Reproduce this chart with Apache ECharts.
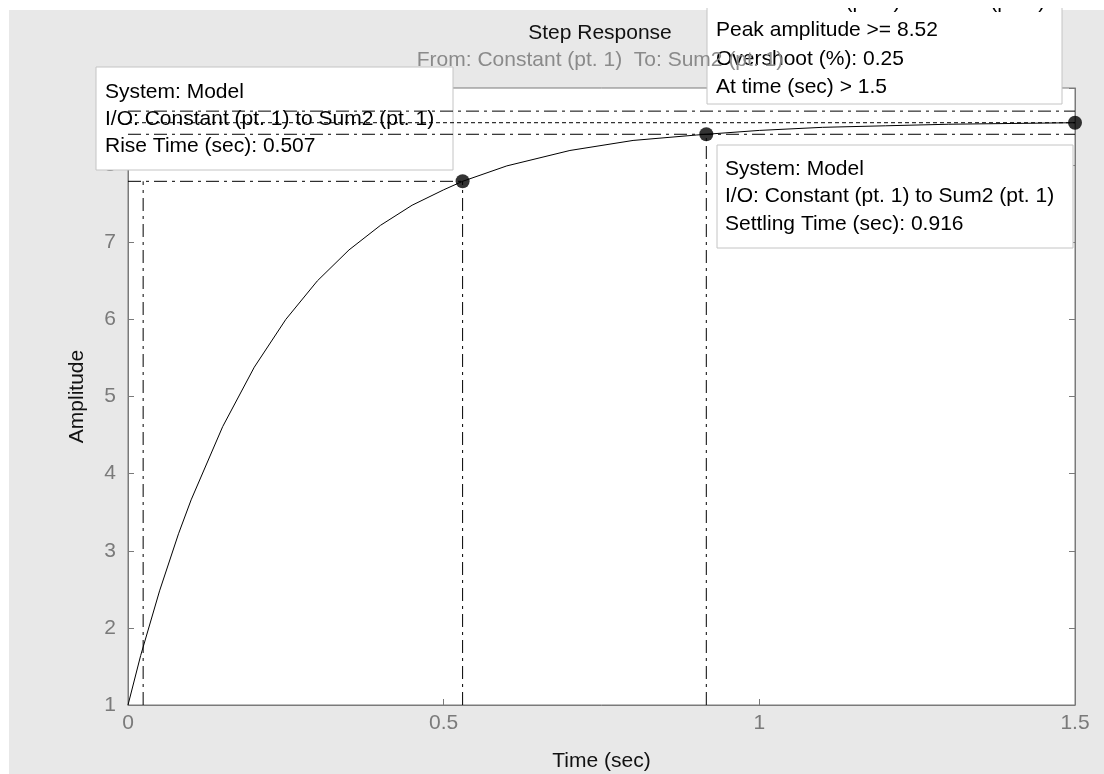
<!DOCTYPE html>
<html><head><meta charset="utf-8">
<script src="https://cdn.jsdelivr.net/npm/echarts@6/dist/echarts.min.js"></script>
<style>html,body{margin:0;padding:0;background:#fff}#c{width:1104px;height:774px}</style>
</head><body><div id="c"></div>
<script>
// Step response samples
const timeSec   = [0, 0.02, 0.05, 0.08, 0.1, 0.15, 0.2, 0.25, 0.3, 0.35, 0.4, 0.45, 0.5, 0.53, 0.6, 0.7, 0.8, 0.9, 0.916, 1.0, 1.1, 1.2, 1.3, 1.4, 1.5];
const amplitude = [1, 1.64, 2.48, 3.22, 3.66, 4.61, 5.38, 6.00, 6.50, 6.90, 7.22, 7.48, 7.68, 7.79, 7.99, 8.19, 8.32, 8.39, 8.40, 8.45, 8.49, 8.51, 8.53, 8.54, 8.55];
const xTickLabels = ['0', '0.5', '1', '1.5'];
const yTickLabels = ['1', '2', '3', '4', '5', '6', '7', '8', '9'];
// characteristics
const riseTimes = [0.024, 0.53];      // 10% and 90% crossing times
const riseLevel = [7.79];
const settlingPoint = [0.916, 8.40];
const settlingBand = [8.40, 8.70];
const peakPoint = [1.5, 8.55];

const FONT = '"Liberation Sans", Arial, sans-serif';
const chart = echarts.init(document.getElementById('c'));
const curve = timeSec.map((t, i) => [t, amplitude[i]]);
const dashDot = [13, 5, 3, 5];
function seg(data, type) {
  return { type: 'line', data: data, symbol: 'none', silent: true,
    lineStyle: { color: '#000', width: 1, type: type }, z: 3 };
}
const xMin = 0, xMax = 1.5, yMin = 1;
const series = [
  { type: 'line', data: curve, symbol: 'none', lineStyle: { color: '#000', width: 1 }, z: 4 },
  seg([[xMin, riseLevel[0]], [riseTimes[1], riseLevel[0]]], dashDot),
  seg([[riseTimes[0], yMin], [riseTimes[0], riseLevel[0]]], dashDot),
  seg([[riseTimes[1], yMin], [riseTimes[1], riseLevel[0]]], dashDot),
  seg([[settlingPoint[0], yMin], [settlingPoint[0], settlingPoint[1]]], dashDot),
  seg([[xMin, settlingBand[0]], [xMax, settlingBand[0]]], dashDot),
  seg([[xMin, settlingBand[1]], [xMax, settlingBand[1]]], dashDot),
  seg([[xMin, peakPoint[1]], [peakPoint[0], peakPoint[1]]], [4, 3]),
  { type: 'scatter', data: [[riseTimes[1], riseLevel[0]], settlingPoint, peakPoint],
    symbol: 'circle', symbolSize: 14, itemStyle: { color: '#000' }, z: 5 }
];

function box(x, y, w, h, lines, tx, ty0, dy) {
  const children = [{ type: 'rect', z: 1, shape: { x: x, y: y, width: w, height: h },
    style: { fill: '#fff', stroke: '#c4c4c4', lineWidth: 1 } }];
  lines.forEach((s, i) => children.push({ type: 'text', z: 1, x: tx, y: ty0 + i * dy,
    style: { text: s, font: '21px ' + FONT, fill: '#000', textAlign: 'left', textVerticalAlign: 'middle', verticalAlign: 'middle' } }));
  return children;
}

chart.setOption({
  animation: false,
  backgroundColor: '#fff',
  title: {
    text: 'Step Response',
    subtext: 'From: Constant (pt. 1)  To: Sum2 (pt. 1)',
    left: 595, top: 18, textAlign: 'center', itemGap: 6, z: 10,
    textStyle: { fontSize: 21, fontWeight: 'normal', color: '#111', fontFamily: FONT },
    subtextStyle: { fontSize: 21, color: '#8a8a8a', fontFamily: FONT }
  },
  grid: { left: 128, right: 29, top: 88, bottom: 69, show: true, outerBoundsMode: 'none', containLabel: false,
    backgroundColor: '#fff', borderColor: '#7a7a7a', borderWidth: 1 },
  xAxis: [{
    type: 'value', min: xMin, max: xMax, interval: 0.5,
    name: 'Time (sec)', nameLocation: 'middle', nameGap: 46,
    nameTextStyle: { fontSize: 21, color: '#111', fontFamily: FONT },
    axisLine: { lineStyle: { color: '#7a7a7a' } },
    axisTick: { inside: true, length: 6, lineStyle: { color: '#7a7a7a' } },
    axisLabel: { fontSize: 21, color: '#7a7a7a', fontFamily: FONT, margin: 8,
      formatter: v => xTickLabels[Math.round(v / 0.5)] },
    splitLine: { show: false }
  }],
  yAxis: [{
    type: 'value', min: 1, max: 9, interval: 1, z: 0,
    name: 'Amplitude', nameLocation: 'middle', nameGap: 40,
    nameTextStyle: { fontSize: 21, color: '#111', fontFamily: FONT },
    axisLine: { show: true, lineStyle: { color: '#7a7a7a' } },
    axisTick: { show: true, inside: true, length: 6, lineStyle: { color: '#7a7a7a' } },
    axisLabel: { fontSize: 21, color: '#7a7a7a', fontFamily: FONT, margin: 12,
      formatter: v => yTickLabels[Math.round(v - 1)] },
    splitLine: { show: false }
  }, {
    type: 'value', min: 1, max: 9, interval: 1, position: 'right', z: 0,
    axisLine: { show: true, lineStyle: { color: '#7a7a7a' } },
    axisTick: { show: true, inside: true, length: 6, lineStyle: { color: '#7a7a7a' } },
    axisLabel: { show: false }, splitLine: { show: false }
  }],
  graphic: [
    { type: 'rect', z: -10, shape: { x: 9, y: 10, width: 1095, height: 764 }, style: { fill: '#e8e8e8' } },
    { type: 'rect', z: 20, shape: { x: 0, y: 0, width: 1104, height: 8 }, style: { fill: '#fff' } }
  ].concat(
    box(96, 67, 357, 103, ['System: Model', 'I/O: Constant (pt. 1) to Sum2 (pt. 1)', 'Rise Time (sec): 0.507'], 105, 92, 27),
    box(717, 145, 356, 103, ['System: Model', 'I/O: Constant (pt. 1) to Sum2 (pt. 1)', 'Settling Time (sec): 0.916'], 725, 169, 27.5),
    box(707, -40, 355, 144, ['I/O: Constant (pt. 1) to Sum2 (pt. 1)', 'Peak amplitude >= 8.52', 'Overshoot (%): 0.25', 'At time (sec) > 1.5'], 716, 2, 28.5)
  ),
  series: series
});
</script></body></html>
